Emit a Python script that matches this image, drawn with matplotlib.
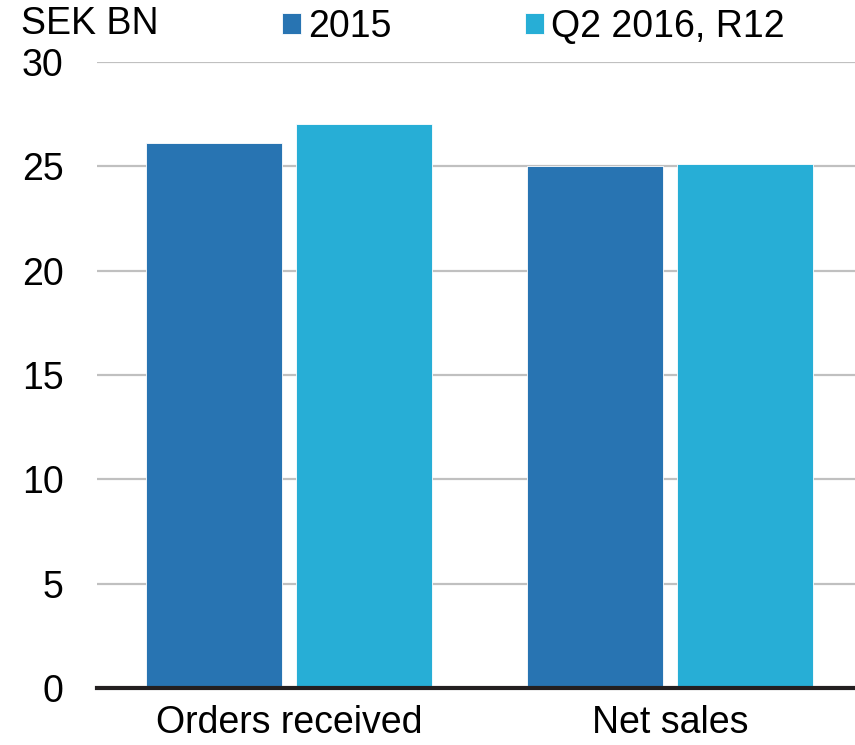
import matplotlib
matplotlib.use("Agg")
import matplotlib.pyplot as plt
import numpy as np

categories = ["Orders received", "Net sales"]
series_names = ["2015", "Q2 2016, R12"]
values_2015 = [26.1, 25.0]
values_q2_2016 = [27.05, 25.1]
yticks = [0, 5, 10, 15, 20, 25, 30]

colors = ["#2874B2", "#27AED6"]

plt.rcParams['font.family'] = ['Liberation Sans', 'DejaVu Sans']
FS = 27

fig = plt.figure(figsize=(8.55, 7.45), dpi=100)
ax = fig.add_axes([97/855, 1-688/745, 1-97/855, (688-62)/745])

x = np.arange(len(categories))
w = 0.357
off = 0.197
b1 = ax.bar(x - off, values_2015, w, color=colors[0], label=series_names[0],
            edgecolor="white", linewidth=0.6, zorder=3)
b2 = ax.bar(x + off, values_q2_2016, w, color=colors[1], label=series_names[1],
            edgecolor="white", linewidth=0.6, zorder=3)

ax.set_xlim(-0.504, 1.486)
ax.set_ylim(0, 30)
ax.set_yticks(yticks)
ax.set_yticklabels([str(t) for t in yticks], fontsize=FS)
ax.set_xticks(x)
ax.set_xticklabels(categories, fontsize=FS)
ax.tick_params(axis='y', length=0, pad=24)
ax.tick_params(axis='x', length=0, pad=12)
ax.yaxis.grid(True, color="#C0C0C0", linewidth=1.6, zorder=0)
ax.set_axisbelow(True)
for s in ["top", "right", "left"]:
    ax.spines[s].set_visible(False)
ax.spines["bottom"].set_color("#231F20")
ax.spines["bottom"].set_linewidth(3)
ax.spines["bottom"].set_zorder(4)

fig.text(21/855, 1-6/745, "SEK BN", fontsize=FS, ha="left", va="top")

fig.legend(handles=[b1, b2], labels=series_names, loc="upper left",
           bbox_to_anchor=(282/855, 1-9/745), ncol=2, frameon=False,
           fontsize=FS, handlelength=0.5, handleheight=0.5,
           handletextpad=0.2, columnspacing=3.55, borderpad=0,
           borderaxespad=0)

fig.savefig("out.png", dpi=100)
